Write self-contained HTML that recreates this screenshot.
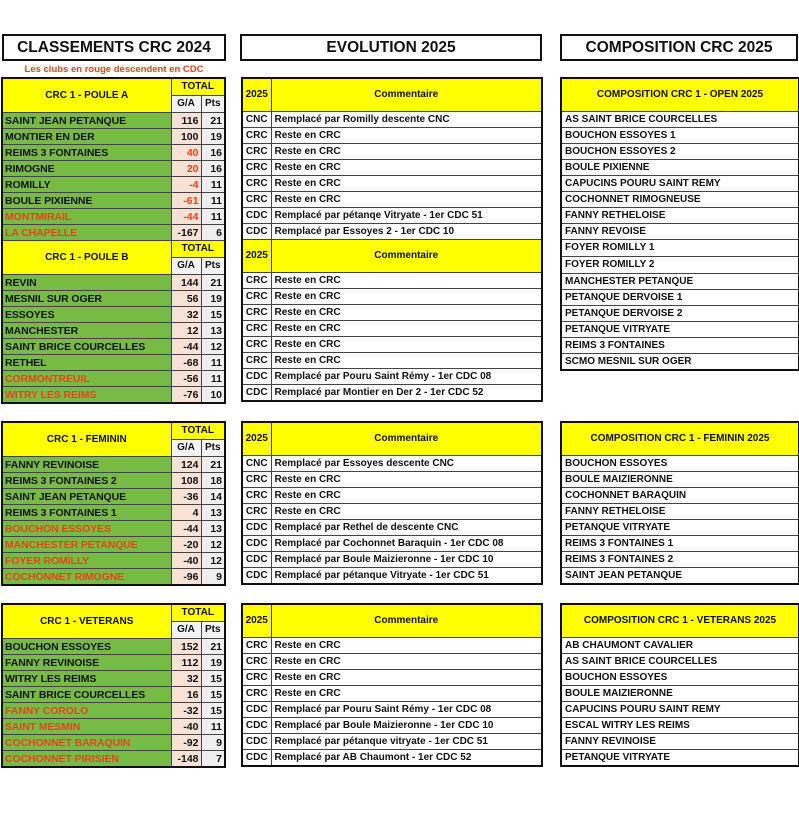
<!DOCTYPE html>
<html><head><meta charset="utf-8">
<style>
body{margin:0;width:799px;height:833px;background:#fff;position:relative;overflow:hidden;font-family:"Liberation Sans",sans-serif;font-weight:bold}
.tb{position:absolute;border:2px solid #111;box-sizing:border-box;height:27px;text-align:center;font-size:15.5px;line-height:23px;color:#111}
table{position:absolute;border-collapse:collapse;table-layout:fixed;border:2px solid #111}
td{border:1px solid #444;padding:0 2px;height:15px;line-height:14px;font-size:10.5px;white-space:nowrap;overflow:hidden;color:#111}
td.h{background:#ffff00;text-align:center;font-size:10px}
td.H{background:#ffff00;text-align:center;font-size:10px;height:32px;vertical-align:middle}
td.n{background:#78bb44;letter-spacing:-0.1px}
td.r{color:#e8431a}
td.g{background:#f8e2d6;text-align:right}
td.p{background:#efefef;text-align:right}
td.c{text-align:center;font-size:10px}
td.m{font-size:10px;padding-left:3px}
tr.hh td{height:16px}
</style></head><body>
<div class="tb" style="left:2px;top:34px;width:224px">CLASSEMENTS CRC 2024</div>
<div class="tb" style="left:240px;top:34px;width:302px">EVOLUTION 2025</div>
<div class="tb" style="left:560px;top:34px;width:238px">COMPOSITION CRC 2025</div>
<div style="position:absolute;left:2px;top:64px;width:224px;text-align:center;color:#e8431a;font-size:9.5px">Les clubs en rouge descendent en CDC</div>

<table style="left:1px;top:77px;width:223px">
<colgroup><col style="width:169px"><col style="width:30px"><col style="width:24px"></colgroup>
<tr class="hh"><td class="h" rowspan="2">CRC 1 - POULE A</td><td class="h" colspan="2">TOTAL</td></tr>
<tr class="hh"><td class="h" style="background:#f3f3f3">G/A</td><td class="h" style="background:#f3f3f3">Pts</td></tr>
<tr><td class="n">SAINT JEAN PETANQUE</td><td class="g">116</td><td class="p">21</td></tr>
<tr><td class="n">MONTIER EN DER</td><td class="g">100</td><td class="p">19</td></tr>
<tr><td class="n">REIMS 3 FONTAINES</td><td class="g r">40</td><td class="p">16</td></tr>
<tr><td class="n">RIMOGNE</td><td class="g r">20</td><td class="p">16</td></tr>
<tr><td class="n">ROMILLY</td><td class="g r">-4</td><td class="p">11</td></tr>
<tr><td class="n">BOULE PIXIENNE</td><td class="g r">-61</td><td class="p">11</td></tr>
<tr><td class="n r">MONTMIRAIL</td><td class="g r">-44</td><td class="p">11</td></tr>
<tr><td class="n r">LA CHAPELLE</td><td class="g">-167</td><td class="p">6</td></tr>
<tr class="hh"><td class="h" rowspan="2">CRC 1 - POULE B</td><td class="h" colspan="2">TOTAL</td></tr>
<tr class="hh"><td class="h" style="background:#f3f3f3">G/A</td><td class="h" style="background:#f3f3f3">Pts</td></tr>
<tr><td class="n">REVIN</td><td class="g">144</td><td class="p">21</td></tr>
<tr><td class="n">MESNIL SUR OGER</td><td class="g">56</td><td class="p">19</td></tr>
<tr><td class="n">ESSOYES</td><td class="g">32</td><td class="p">15</td></tr>
<tr><td class="n">MANCHESTER</td><td class="g">12</td><td class="p">13</td></tr>
<tr><td class="n">SAINT BRICE COURCELLES</td><td class="g">-44</td><td class="p">12</td></tr>
<tr><td class="n">RETHEL</td><td class="g">-68</td><td class="p">11</td></tr>
<tr><td class="n r">CORMONTREUIL</td><td class="g">-56</td><td class="p">11</td></tr>
<tr><td class="n r">WITRY LES REIMS</td><td class="g">-76</td><td class="p">10</td></tr>
</table>

<table style="left:241px;top:77px;width:300px">
<colgroup><col style="width:29px"><col style="width:271px"></colgroup>
<tr><td class="H">2025</td><td class="H">Commentaire</td></tr>
<tr><td class="c">CNC</td><td class="m">Remplacé par Romilly descente CNC</td></tr>
<tr><td class="c">CRC</td><td class="m">Reste en CRC</td></tr>
<tr><td class="c">CRC</td><td class="m">Reste en CRC</td></tr>
<tr><td class="c">CRC</td><td class="m">Reste en CRC</td></tr>
<tr><td class="c">CRC</td><td class="m">Reste en CRC</td></tr>
<tr><td class="c">CRC</td><td class="m">Reste en CRC</td></tr>
<tr><td class="c">CDC</td><td class="m">Remplacé par pétanqe Vitryate - 1er CDC 51</td></tr>
<tr><td class="c">CDC</td><td class="m">Remplacé par Essoyes 2 - 1er CDC 10</td></tr>
<tr><td class="H">2025</td><td class="H">Commentaire</td></tr>
<tr><td class="c">CRC</td><td class="m">Reste en CRC</td></tr>
<tr><td class="c">CRC</td><td class="m">Reste en CRC</td></tr>
<tr><td class="c">CRC</td><td class="m">Reste en CRC</td></tr>
<tr><td class="c">CRC</td><td class="m">Reste en CRC</td></tr>
<tr><td class="c">CRC</td><td class="m">Reste en CRC</td></tr>
<tr><td class="c">CRC</td><td class="m">Reste en CRC</td></tr>
<tr><td class="c">CDC</td><td class="m">Remplacé par Pouru Saint Rémy - 1er CDC 08</td></tr>
<tr><td class="c">CDC</td><td class="m">Remplacé par Montier en Der 2 - 1er CDC 52</td></tr>
</table>

<table style="left:560px;top:77px;width:238px">
<colgroup><col style="width:238px"></colgroup>
<tr><td class="H">COMPOSITION CRC 1 - OPEN 2025</td></tr>
<tr><td class="m">AS SAINT BRICE COURCELLES</td></tr>
<tr><td class="m">BOUCHON ESSOYES 1</td></tr>
<tr><td class="m">BOUCHON ESSOYES 2</td></tr>
<tr><td class="m">BOULE PIXIENNE</td></tr>
<tr><td class="m">CAPUCINS POURU SAINT REMY</td></tr>
<tr><td class="m">COCHONNET RIMOGNEUSE</td></tr>
<tr><td class="m">FANNY RETHELOISE</td></tr>
<tr><td class="m">FANNY REVOISE</td></tr>
<tr class="hh"><td class="m">FOYER ROMILLY 1</td></tr>
<tr class="hh"><td class="m">FOYER ROMILLY 2</td></tr>
<tr><td class="m">MANCHESTER PETANQUE</td></tr>
<tr><td class="m">PETANQUE DERVOISE 1</td></tr>
<tr><td class="m">PETANQUE DERVOISE 2</td></tr>
<tr><td class="m">PETANQUE VITRYATE</td></tr>
<tr><td class="m">REIMS 3 FONTAINES</td></tr>
<tr><td class="m">SCMO MESNIL SUR OGER</td></tr>
</table>

<table style="left:1px;top:421px;width:223px">
<colgroup><col style="width:169px"><col style="width:30px"><col style="width:24px"></colgroup>
<tr class="hh"><td class="h" rowspan="2">CRC 1 - FEMININ</td><td class="h" colspan="2">TOTAL</td></tr>
<tr class="hh"><td class="h" style="background:#f3f3f3">G/A</td><td class="h" style="background:#f3f3f3">Pts</td></tr>
<tr><td class="n">FANNY REVINOISE</td><td class="g">124</td><td class="p">21</td></tr>
<tr><td class="n">REIMS 3 FONTAINES 2</td><td class="g">108</td><td class="p">18</td></tr>
<tr><td class="n">SAINT JEAN PETANQUE</td><td class="g">-36</td><td class="p">14</td></tr>
<tr><td class="n">REIMS 3 FONTAINES 1</td><td class="g">4</td><td class="p">13</td></tr>
<tr><td class="n r">BOUCHON ESSOYES</td><td class="g">-44</td><td class="p">13</td></tr>
<tr><td class="n r">MANCHESTER PETANQUE</td><td class="g">-20</td><td class="p">12</td></tr>
<tr><td class="n r">FOYER ROMILLY</td><td class="g">-40</td><td class="p">12</td></tr>
<tr><td class="n r">COCHONNET RIMOGNE</td><td class="g">-96</td><td class="p">9</td></tr>
</table>
<table style="left:241px;top:421px;width:300px">
<colgroup><col style="width:29px"><col style="width:271px"></colgroup>
<tr><td class="H">2025</td><td class="H">Commentaire</td></tr>
<tr><td class="c">CNC</td><td class="m">Remplacé par Essoyes descente CNC</td></tr>
<tr><td class="c">CRC</td><td class="m">Reste en CRC</td></tr>
<tr><td class="c">CRC</td><td class="m">Reste en CRC</td></tr>
<tr><td class="c">CRC</td><td class="m">Reste en CRC</td></tr>
<tr><td class="c">CDC</td><td class="m">Remplacé par Rethel de descente CNC</td></tr>
<tr><td class="c">CDC</td><td class="m">Remplacé par Cochonnet Baraquin - 1er CDC 08</td></tr>
<tr><td class="c">CDC</td><td class="m">Remplacé par Boule Maizieronne - 1er CDC 10</td></tr>
<tr><td class="c">CDC</td><td class="m">Remplacé par pétanque Vitryate - 1er CDC 51</td></tr>
</table>
<table style="left:560px;top:421px;width:238px">
<colgroup><col style="width:238px"></colgroup>
<tr><td class="H">COMPOSITION CRC 1 - FEMININ 2025</td></tr>
<tr><td class="m">BOUCHON ESSOYES</td></tr>
<tr><td class="m">BOULE MAIZIERONNE</td></tr>
<tr><td class="m">COCHONNET BARAQUIN</td></tr>
<tr><td class="m">FANNY RETHELOISE</td></tr>
<tr><td class="m">PETANQUE VITRYATE</td></tr>
<tr><td class="m">REIMS 3 FONTAINES 1</td></tr>
<tr><td class="m">REIMS 3 FONTAINES 2</td></tr>
<tr><td class="m">SAINT JEAN PETANQUE</td></tr>
</table>

<table style="left:1px;top:603px;width:223px">
<colgroup><col style="width:169px"><col style="width:30px"><col style="width:24px"></colgroup>
<tr class="hh"><td class="h" rowspan="2">CRC 1 - VETERANS</td><td class="h" colspan="2">TOTAL</td></tr>
<tr class="hh"><td class="h" style="background:#f3f3f3">G/A</td><td class="h" style="background:#f3f3f3">Pts</td></tr>
<tr><td class="n">BOUCHON ESSOYES</td><td class="g">152</td><td class="p">21</td></tr>
<tr><td class="n">FANNY REVINOISE</td><td class="g">112</td><td class="p">19</td></tr>
<tr><td class="n">WITRY LES REIMS</td><td class="g">32</td><td class="p">15</td></tr>
<tr><td class="n">SAINT BRICE COURCELLES</td><td class="g">16</td><td class="p">15</td></tr>
<tr><td class="n r">FANNY COROLO</td><td class="g">-32</td><td class="p">15</td></tr>
<tr><td class="n r">SAINT MESMIN</td><td class="g">-40</td><td class="p">11</td></tr>
<tr><td class="n r">COCHONNET BARAQUIN</td><td class="g">-92</td><td class="p">9</td></tr>
<tr><td class="n r">COCHONNET PIRISIEN</td><td class="g">-148</td><td class="p">7</td></tr>
</table>
<table style="left:241px;top:603px;width:300px">
<colgroup><col style="width:29px"><col style="width:271px"></colgroup>
<tr><td class="H">2025</td><td class="H">Commentaire</td></tr>
<tr><td class="c">CRC</td><td class="m">Reste en CRC</td></tr>
<tr><td class="c">CRC</td><td class="m">Reste en CRC</td></tr>
<tr><td class="c">CRC</td><td class="m">Reste en CRC</td></tr>
<tr><td class="c">CRC</td><td class="m">Reste en CRC</td></tr>
<tr><td class="c">CDC</td><td class="m">Remplacé par Pouru Saint Rémy - 1er CDC 08</td></tr>
<tr><td class="c">CDC</td><td class="m">Remplacé par Boule Maizieronne - 1er CDC 10</td></tr>
<tr><td class="c">CDC</td><td class="m">Remplacé par pétanque vitryate - 1er CDC 51</td></tr>
<tr><td class="c">CDC</td><td class="m">Remplacé par AB Chaumont - 1er CDC 52</td></tr>
</table>
<table style="left:560px;top:603px;width:238px">
<colgroup><col style="width:238px"></colgroup>
<tr><td class="H">COMPOSITION CRC 1 - VETERANS 2025</td></tr>
<tr><td class="m">AB CHAUMONT CAVALIER</td></tr>
<tr><td class="m">AS SAINT BRICE COURCELLES</td></tr>
<tr><td class="m">BOUCHON ESSOYES</td></tr>
<tr><td class="m">BOULE MAIZIERONNE</td></tr>
<tr><td class="m">CAPUCINS POURU SAINT REMY</td></tr>
<tr><td class="m">ESCAL WITRY LES REIMS</td></tr>
<tr><td class="m">FANNY REVINOISE</td></tr>
<tr><td class="m">PETANQUE VITRYATE</td></tr>
</table>
</body></html>
